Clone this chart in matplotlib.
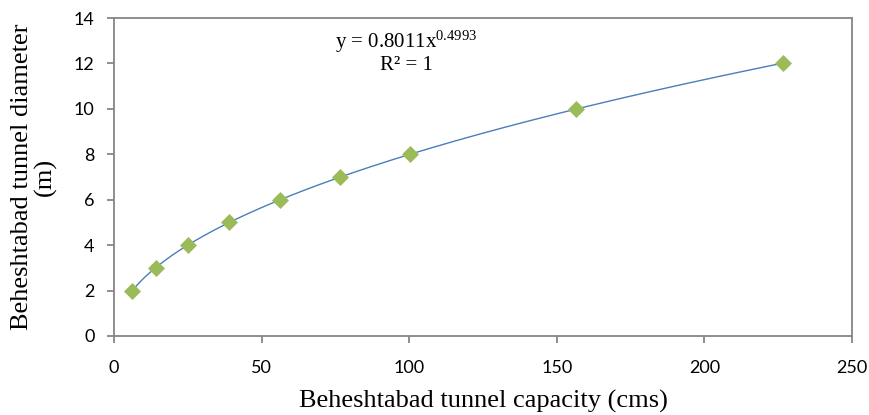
import numpy as np
import matplotlib.pyplot as plt

# tunnel capacity (cms) vs diameter (m)
capacity = [6.2, 14.1, 25.0, 39.0, 56.4, 76.7, 100.2, 156.4, 226.5]
diameter = [2, 3, 4, 5, 6, 7, 8, 10, 12]
x_ticks = [0, 50, 100, 150, 200, 250]
y_ticks = [0, 2, 4, 6, 8, 10, 12, 14]

plt.rcParams['mathtext.fontset'] = 'custom'
plt.rcParams['mathtext.rm'] = 'Liberation Serif'
plt.rcParams['mathtext.it'] = 'Liberation Serif'

fig = plt.figure(figsize=(8.69, 4.15), dpi=100)
ax = fig.add_axes([0.1312, 0.1904, 0.8492, 0.7662])

# power trendline fitted in log space
b, log_a = np.polyfit(np.log(capacity), np.log(diameter), 1)
xs = np.linspace(min(capacity), max(capacity), 200)
ax.plot(xs, np.exp(log_a) * xs ** b, color='#4A7EBB', lw=1.0, zorder=2)

ax.scatter(capacity, diameter, marker='D', s=75, color='#9BBB59', zorder=3, linewidths=0)

ax.set_xlim(0, 250)
ax.set_ylim(0, 14)
ax.set_xticks(x_ticks)
ax.set_yticks(y_ticks)

gray = '#868686'
for s in ax.spines.values():
    s.set_color(gray)
    s.set_linewidth(1.3)
ax.tick_params(direction='out', length=5, width=1.3, color=gray, labelsize=13)
for lab in ax.get_xticklabels() + ax.get_yticklabels():
    lab.set_family('Lato')
ax.tick_params(axis='x', pad=12)
ax.tick_params(axis='y', pad=9)

ax.set_xlabel('Beheshtabad tunnel capacity (cms)', fontsize=19, family='Liberation Serif', labelpad=10)
ax.set_ylabel('Beheshtabad tunnel diameter\n(m)', fontsize=19, family='Liberation Serif',
              linespacing=1.05, labelpad=12)

ax.text(99, 12.95, r'y = 0.8011x$^{0.4993}$', fontsize=15, family='Liberation Serif',
        ha='center', va='center')
ax.text(99, 11.9, 'R² = 1', fontsize=15, family='Liberation Serif', ha='center', va='center')

plt.savefig('out.png', dpi=100)
